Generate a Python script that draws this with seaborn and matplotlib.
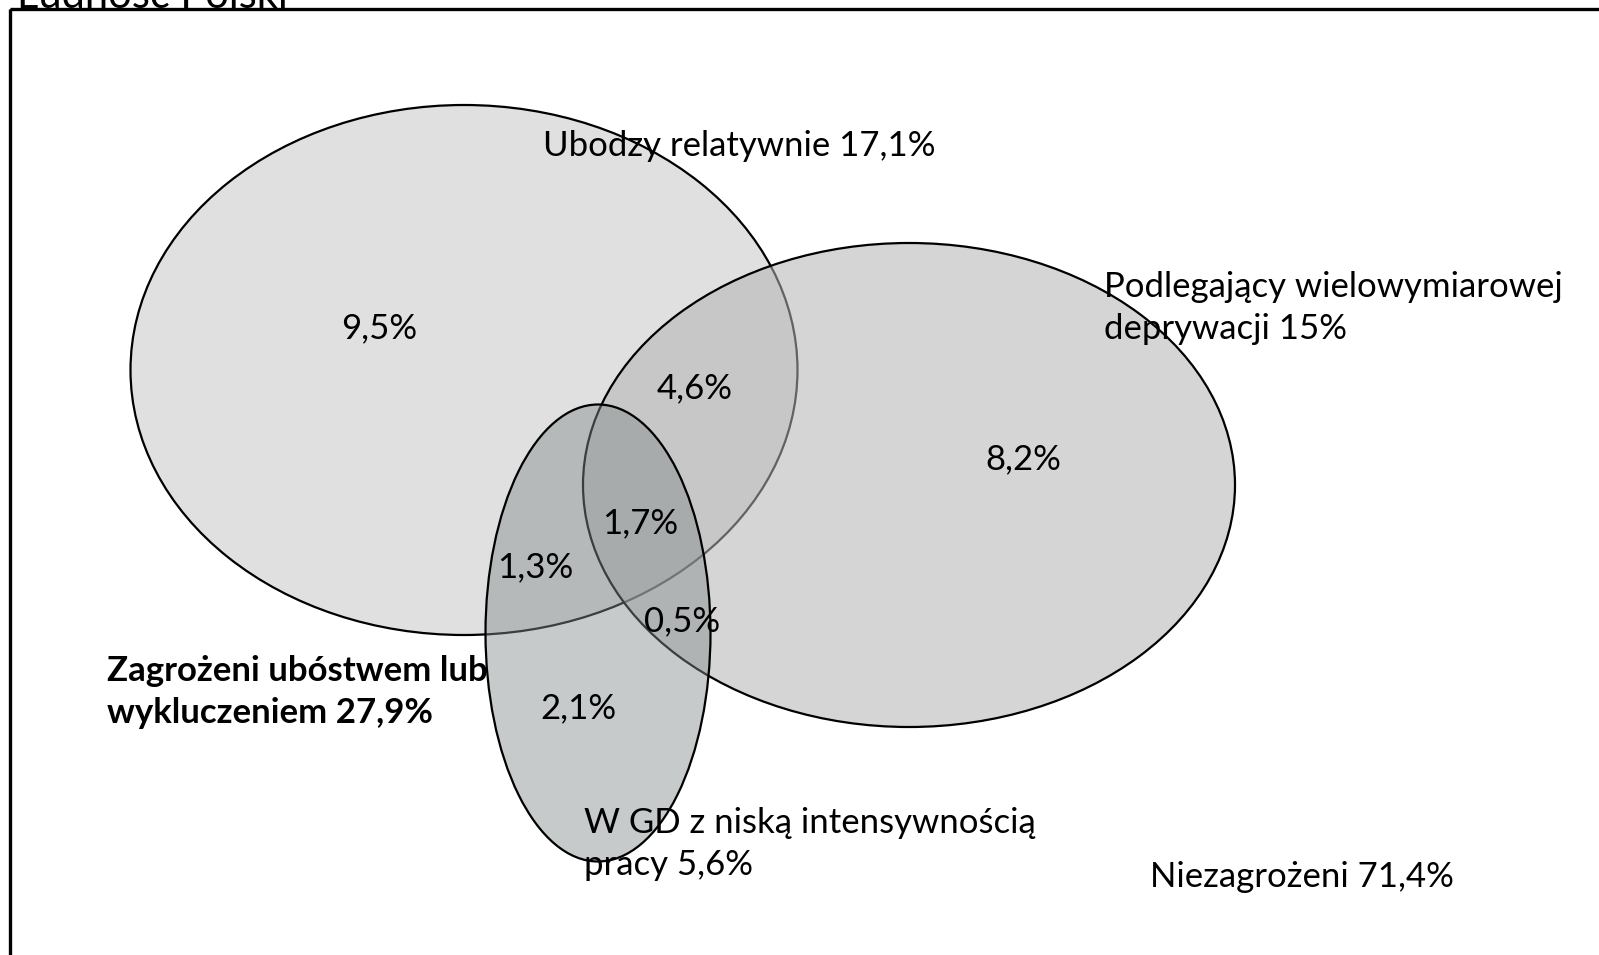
import matplotlib.pyplot as plt
from matplotlib.patches import Ellipse, Rectangle
import seaborn as sns

# sets (drawn in this order)
set_names = ["Ubodzy relatywnie", "Podlegający wielowymiarowej\ndeprywacji", "W GD z niską intensywnością\npracy"]
set_values = ["17,1%", "15%", "5,6%"]

# region shares
region_values = ["9,5%", "4,6%", "8,2%", "1,7%", "1,3%", "0,5%", "2,1%"]
total_label = "Zagrożeni ubóstwem lub\nwykluczeniem 27,9%"
rest_label = "Niezagrożeni 71,4%"
title = "Ludność Polski"

# geometry in pixel coords of the canvas
ell_center = [(464, 370), (909, 485), (598, 633)]
ell_size = [(667, 530), (652, 484), (225, 457)]
ell_face = [(0.878, 0.878, 0.878, 1.0), (0.706, 0.706, 0.706, 0.55), (0.51, 0.545, 0.545, 0.45)]
region_pos = [(379, 328), (695, 388), (1023, 459), (640, 523), (535, 567), (682, 621), (578, 708)]

sns.set_theme(style="white")
plt.rcParams['font.family'] = ['Lato', 'DejaVu Sans']
plt.rcParams['text.color'] = 'black'

fig = plt.figure(figsize=(15.99, 9.55), dpi=100)
ax = fig.add_axes([0, 0, 1, 1])
ax.set_xlim(0, 1599)
ax.set_ylim(955, 0)
ax.axis("off")

ax.add_patch(Rectangle((10, 9), 1700, 1100, fill=False, edgecolor="black", linewidth=2.4))

for c, s, f in zip(ell_center, ell_size, ell_face):
    ax.add_patch(Ellipse(c, s[0], s[1], facecolor=f, edgecolor="black", linewidth=1.6))

fs = 25
for v, p in zip(region_values, region_pos):
    ax.text(p[0], p[1], v, fontsize=fs, ha="center", va="center")

ax.text(543, 146, f"{set_names[0]} {set_values[0]}", fontsize=fs, ha="left", va="center")
ax.text(1104, 308, f"{set_names[1]} {set_values[1]}", fontsize=fs, ha="left", va="center", linespacing=1.42)
ax.text(584, 844, f"{set_names[2]} {set_values[2]}", fontsize=fs, ha="left", va="center", linespacing=1.42)
ax.text(107, 692, total_label, fontsize=fs, fontweight="bold", ha="left", va="center", linespacing=1.36)
ax.text(1150, 877, rest_label, fontsize=fs, ha="left", va="center")
ax.text(17, 8, title, fontsize=30, ha="left", va="baseline")

fig.savefig("out.png", dpi=100)
